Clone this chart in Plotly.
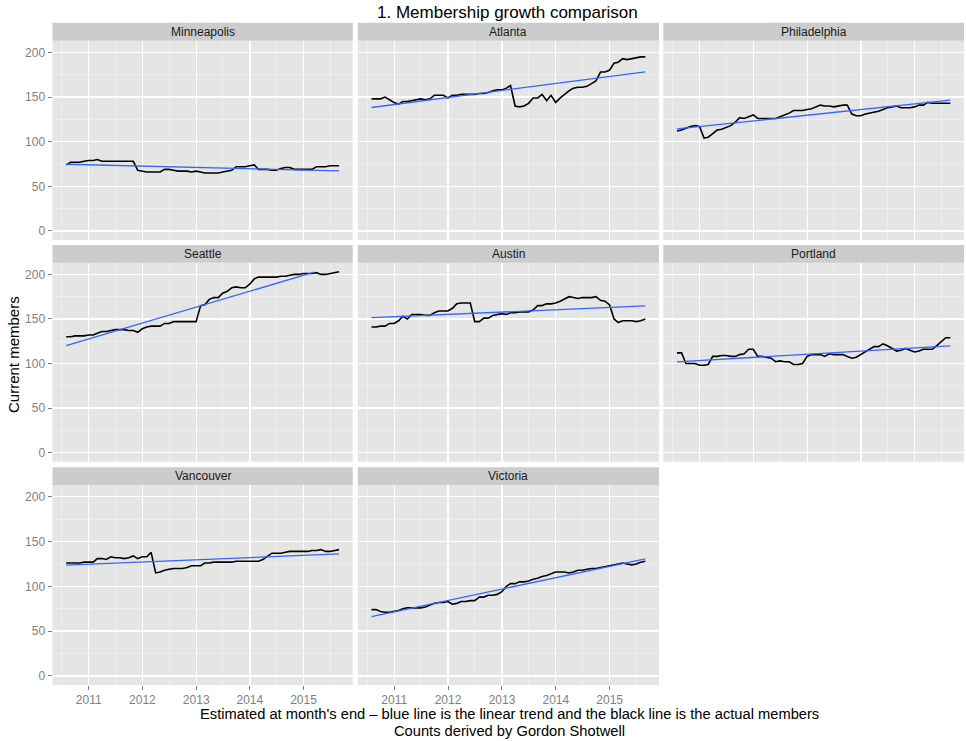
import plotly.graph_objects as go
import pandas as pd

# ---------------- data ----------------
cities = ["Minneapolis", "Atlanta", "Philadelphia", "Seattle",
          "Austin", "Portland", "Vancouver", "Victoria"]

months = pd.date_range("2010-07-31", periods=62, freq="ME")

minneapolis = [74, 77, 77, 77, 78, 79, 79, 80, 78, 78,
               78, 78, 78, 78, 78, 78, 68, 67, 66, 66,
               66, 66, 69, 69, 68, 67, 67, 67, 66, 67,
               66, 65, 65, 65, 65, 66, 67, 68, 72, 72,
               72, 73, 74, 69, 69, 69, 68, 68, 70, 71,
               71, 69, 69, 69, 69, 69, 72, 72, 72, 73,
               73, 73]
atlanta = [148, 148, 148, 150, 147, 144, 142, 145, 145, 146,
           147, 148, 147, 148, 152, 152, 152, 149, 152, 152,
           153, 153, 153, 153, 154, 154, 155, 157, 158, 158,
           160, 163, 140, 139, 140, 143, 149, 149, 153, 146,
           152, 144, 149, 153, 157, 160, 161, 161, 162, 165,
           168, 178, 178, 180, 188, 189, 193, 192, 193, 194,
           195, 195]
philadelphia = [112, 113, 115, 117, 118, 117, 104, 105, 109, 113,
                114, 116, 118, 122, 127, 126, 128, 130, 126, 126,
                126, 126, 126, 128, 130, 132, 135, 135, 135, 136,
                137, 139, 141, 140, 140, 139, 140, 141, 141, 131,
                129, 129, 131, 132, 133, 134, 136, 138, 139, 140,
                138, 138, 138, 139, 141, 141, 144, 143, 143, 143,
                143, 143]
seattle = [130, 130, 131, 131, 131, 132, 132, 134, 136, 136,
           137, 138, 138, 138, 137, 137, 135, 139, 141, 142,
           142, 142, 145, 145, 147, 147, 147, 147, 147, 147,
           165, 166, 172, 174, 174, 179, 181, 185, 186, 185,
           185, 189, 195, 197, 197, 197, 197, 197, 198, 198,
           199, 200, 200, 201, 201, 201, 202, 200, 200, 201,
           202, 203]
austin = [141, 141, 142, 142, 145, 145, 148, 153, 150, 155,
          155, 155, 154, 154, 157, 159, 159, 159, 162, 167,
          168, 168, 168, 147, 147, 151, 151, 154, 155, 156,
          155, 157, 157, 158, 158, 158, 160, 165, 165, 167,
          167, 168, 170, 172, 175, 174, 173, 174, 174, 174,
          175, 171, 170, 166, 150, 146, 148, 148, 148, 147,
          148, 150]
portland = [112, 112, 100, 100, 100, 98, 98, 99, 108, 108,
            109, 109, 108, 108, 110, 111, 116, 116, 108, 108,
            107, 106, 102, 103, 102, 102, 99, 99, 100, 108,
            110, 110, 110, 108, 111, 110, 110, 110, 108, 106,
            107, 110, 113, 116, 119, 119, 122, 120, 117, 114,
            115, 117, 115, 113, 114, 116, 116, 116, 120, 124,
            129, 129]
vancouver = [126, 126, 126, 126, 127, 127, 127, 131, 131, 130,
             133, 132, 132, 131, 132, 134, 131, 133, 133, 138,
             115, 116, 118, 119, 120, 120, 120, 121, 123, 123,
             123, 126, 126, 127, 127, 127, 127, 127, 128, 128,
             128, 128, 128, 128, 130, 133, 137, 137, 137, 138,
             139, 139, 139, 139, 139, 140, 140, 141, 139, 139,
             140, 141]
victoria = [74, 74, 72, 71, 71, 72, 73, 75, 76, 76,
            76, 76, 77, 79, 81, 82, 82, 83, 80, 81,
            83, 83, 84, 84, 88, 88, 90, 90, 91, 94,
            100, 103, 103, 105, 105, 106, 108, 109, 111, 112,
            114, 116, 116, 116, 115, 116, 118, 118, 119, 120,
            120, 121, 122, 123, 124, 125, 126, 125, 124, 125,
            127, 128]

series = [minneapolis, atlanta, philadelphia, seattle,
          austin, portland, vancouver, victoria]

# linear trend (blue) end points
trend_start_values = [74.7, 138.3, 114.3, 120.1, 151.5, 101.9, 123.6, 66.3]
trend_end_values = [67.3, 178.3, 146.5, 202.6, 164.6, 119.8, 136.3, 130.7]
trend_start_dates = ["2010-07-31"] * 8
trend_end_dates = ["2015-08-31", "2015-08-31", "2015-08-31", "2015-03-15",
                   "2015-08-31", "2015-08-31", "2015-08-31", "2015-08-31"]

year_ticks = ["2011-01-01", "2012-01-01", "2013-01-01", "2014-01-01", "2015-01-01"]
year_labels = ["2011", "2012", "2013", "2014", "2015"]
y_ticks = [0, 50, 100, 150, 200]

# ---------------- layout geometry ----------------
W, H = 966, 741
FONT = "Liberation Sans, Arial, Helvetica, sans-serif"
col_x = [(52.5, 352.7), (357.8, 659.0), (663.3, 964.0)]
rows = [(22.7, 40.7, 240.0), (245.0, 262.7, 461.7), (467.3, 485.0, 685.0)]

# ggplot-like scale expansion (5%)
d0, d1 = months[0], months[-1]
span = d1 - d0
x_range = [d0 - span * 0.05, d1 + span * 0.05]
ymax = max(max(s) for s in series)
ymin = 0
y_range = [ymin - (ymax - ymin) * 0.05, ymax + (ymax - ymin) * 0.05]

fig = go.Figure()
layout = dict(
    width=W, height=H, autosize=False,
    margin=dict(l=0, r=0, t=0, b=0),
    paper_bgcolor="white", plot_bgcolor="#e5e5e5",
    showlegend=False,
    font=dict(family=FONT, color="#1a1a1a"),
)
shapes = []
annotations = []

for i, city in enumerate(cities):
    r, c = divmod(i, 3)
    n = i + 1
    xa = "x" if n == 1 else f"x{n}"
    ya = "y" if n == 1 else f"y{n}"
    xl, xr = col_x[c]
    st, pt, pb = rows[r]

    bottom_row = (n in (7, 8))
    left_col = (c == 0)

    layout["xaxis" if n == 1 else f"xaxis{n}"] = dict(
        domain=[xl / W, xr / W], anchor=ya, type="date",
        range=x_range, tickvals=year_ticks, ticktext=year_labels,
        showgrid=True, gridcolor="white", gridwidth=1.3,
        minor=dict(dtick="M6", tick0="2010-07-01", showgrid=True,
                   gridcolor="#f2f2f2", gridwidth=0.7),
        zeroline=False, showline=False,
        ticks="outside" if bottom_row else "", ticklen=4,
        tickcolor="#7f7f7f", tickwidth=1,
        showticklabels=bottom_row,
        tickfont=dict(family=FONT, size=12, color="#7f7f7f"),
        fixedrange=True,
    )
    layout["yaxis" if n == 1 else f"yaxis{n}"] = dict(
        domain=[1 - pb / H, 1 - pt / H], anchor=xa,
        range=y_range, tickvals=y_ticks,
        showgrid=True, gridcolor="white", gridwidth=1.3,
        minor=dict(dtick=25, tick0=0, showgrid=True,
                   gridcolor="#f2f2f2", gridwidth=0.7),
        zeroline=False, showline=False,
        ticks="outside" if left_col else "", ticklen=4,
        tickcolor="#7f7f7f", tickwidth=1,
        showticklabels=left_col,
        tickfont=dict(family=FONT, size=12, color="#7f7f7f"),
        fixedrange=True,
    )

    # strip
    shapes.append(dict(type="rect", xref="paper", yref="paper",
                       x0=xl / W, x1=xr / W, y0=1 - pt / H, y1=1 - st / H,
                       fillcolor="#cccccc", line=dict(width=0), layer="below"))
    annotations.append(dict(text=city, xref="paper", yref="paper",
                            x=(xl + xr) / 2 / W, y=1 - (st + pt) / 2 / H,
                            xanchor="center", yanchor="middle", showarrow=False,
                            font=dict(family=FONT, size=12, color="#1a1a1a")))

    fig.add_trace(go.Scatter(x=months, y=series[i], mode="lines",
                             line=dict(color="black", width=1.6),
                             xaxis=xa, yaxis=ya, hoverinfo="skip"))
    fig.add_trace(go.Scatter(x=[trend_start_dates[i], trend_end_dates[i]],
                             y=[trend_start_values[i], trend_end_values[i]],
                             mode="lines",
                             line=dict(color="#3366FF", width=1.3),
                             xaxis=xa, yaxis=ya, hoverinfo="skip"))

# titles
annotations.append(dict(text="1. Membership growth comparison", xref="paper", yref="paper",
                        x=508 / W, y=1 - 12.5 / H, xanchor="center", yanchor="middle",
                        showarrow=False, font=dict(family=FONT, size=17, color="black")))
annotations.append(dict(text="Current members", xref="paper", yref="paper",
                        x=13 / W, y=1 - 355 / H, xanchor="center", yanchor="middle",
                        textangle=-90, showarrow=False,
                        font=dict(family=FONT, size=15, color="black")))
annotations.append(dict(text="Estimated at month's end \u2013 blue line is the linear trend and the black line is the actual members",
                        xref="paper", yref="paper", borderpad=0,
                        x=509 / W, y=1 - 713.5 / H, xanchor="center", yanchor="middle",
                        showarrow=False, font=dict(family=FONT, size=14.7, color="black")))
annotations.append(dict(text="Counts derived by Gordon Shotwell",
                        xref="paper", yref="paper", borderpad=0,
                        x=509 / W, y=1 - 730.5 / H, xanchor="center", yanchor="middle",
                        showarrow=False, font=dict(family=FONT, size=14.7, color="black")))

layout["shapes"] = shapes
layout["annotations"] = annotations
fig.update_layout(**layout)

fig.write_html(
    "out.html",
    config={"staticPlot": True},
    post_script="document.body.style.margin='0';document.body.style.padding='0';"
                "document.body.style.overflow='hidden';",
)
